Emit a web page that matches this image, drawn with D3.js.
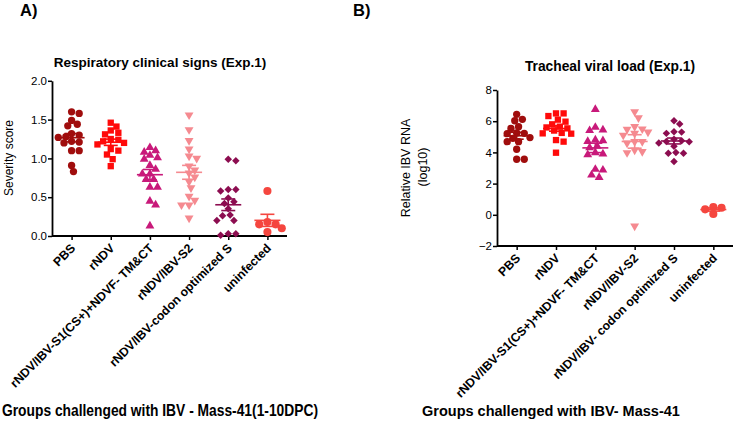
<!DOCTYPE html>
<html><head><meta charset="utf-8">
<script src="https://cdn.jsdelivr.net/npm/d3@7"></script>
<style>
body{margin:0;background:#fff}
svg{display:block;background:#fff}
text{font-family:"Liberation Sans",Arial,sans-serif;fill:#000}
</style>
</head><body>
<svg id="c" width="750" height="422"></svg>
<script>
// ---------- data ----------
const groupsA = ["PBS","rNDV","rNDV/IBV-S1(CS+)+NDVF- TM&CT","rNDV/IBV-S2","rNDV/IBV-codon optimized S","uninfected"];
const groupsB = ["PBS","rNDV","rNDV/IBV-S1(CS+)+NDVF- TM&CT","rNDV/IBV-S2","rNDV/IBV- codon optimized S","uninfected"];
const yTicksA = [0,0.5,1.0,1.5,2.0];
const yTicksB = [-2,0,2,4,6,8];

// Panel A: respiratory clinical signs (severity score)
const sevPBS   = [1.60,1.58,1.49,1.44,1.42,1.32,1.30,1.28,1.27,1.22,1.21,1.20,1.10,1.10,0.91,0.83];
const sevRNDV  = [1.46,1.41,1.36,1.33,1.31,1.25,1.24,1.22,1.20,1.18,1.12,1.10,1.05,0.99,0.90];
const sevS1    = [1.14,1.10,1.08,1.04,1.01,0.99,0.91,0.86,0.80,0.80,0.73,0.73,0.63,0.63,0.45,0.40,0.13];
const sevS2    = [1.56,1.37,1.23,1.12,1.03,1.00,0.90,0.85,0.81,0.76,0.70,0.62,0.51,0.46,0.40,0.40,0.23];
const sevCodon = [0.99,0.97,0.60,0.60,0.58,0.49,0.44,0.42,0.35,0.27,0.26,0.20,0.20,0.03,0.01,0.03];
const sevUninf = [0.58,0.18,0.15,0.15,0.10,0.05];

// Panel B: tracheal viral load (relative IBV RNA, log10)
const rnaPBS   = [6.44,6.12,6.03,5.65,5.54,5.25,5.22,5.20,4.95,4.90,4.69,4.69,4.20,3.56,3.56];
const rnaRNDV  = [6.50,6.50,6.33,6.10,5.97,5.80,5.65,5.60,5.54,5.40,5.25,5.22,5.20,4.79,4.69,3.98];
const rnaS1    = [6.76,5.61,5.44,5.40,4.80,4.75,4.70,4.40,4.30,3.98,3.90,3.85,2.92,2.87,2.55,2.40];
const rnaS2    = [6.61,6.22,5.65,5.50,5.48,5.30,5.22,5.10,4.69,4.69,4.60,4.15,4.05,3.98,-0.72];
const rnaCodon = [6.03,5.82,5.33,5.22,5.30,4.85,4.75,4.70,4.69,4.60,4.40,4.00,3.94,3.94,3.41];
const rnaUninf = [0.45,0.05,0.35,0.50];

const colors = ["#a00d0d","#ff0a0a","#c8197a","#f58a90","#8c0d50","#f5463f"];
const shapeNames = ["circle","square","triangle","triangleDown","diamond","circleBig"];

// ---------- drawing ----------
const svg = d3.select("#c");
const shapeDef = {
  circle:      {type:d3.symbolCircle,   size:42, rot:0},
  circleBig:   {type:d3.symbolCircle,   size:52, rot:0},
  square:      {type:d3.symbolSquare,   size:40, rot:0},
  triangle:    {type:d3.symbolTriangle, size:34, rot:0},
  triangleDown:{type:d3.symbolTriangle, size:34, rot:180},
  diamond:     {type:d3.symbolSquare,   size:28, rot:45}
};

function swarm(vals, y, cx, rad){
  const placed = [];
  const order = vals.map((v,i)=>({v,i})).sort((a,b)=>b.v-a.v);
  const out = new Array(vals.length);
  order.forEach(o=>{
    const py = y(o.v);
    let best = 0;
    for(let k=0;k<40;k++){
      const cands = k===0?[0]:[k*rad*0.5,-k*rad*0.5];
      let ok=null;
      for(const c of cands){
        if(placed.every(p=>Math.hypot(p.x-c,p.y-py)>=rad*1.7)){ok=c;break;}
      }
      if(ok!==null){best=ok;break;}
    }
    placed.push({x:best,y:py});
    out[o.i]={x:cx+best,y:py,v:o.v};
  });
  return out;
}

function panel(cfg){
  const g = svg.append("g");
  const x = d3.scalePoint().domain(cfg.groups).range([cfg.x0,cfg.x1]).padding(0.5);
  const y = d3.scaleLinear().domain(cfg.ydom).range([cfg.yb,cfg.yt]);

  // y axis
  const ya = g.append("g").attr("transform",`translate(${cfg.x0},0)`)
    .call(d3.axisLeft(y).tickValues(cfg.yticks).tickFormat(cfg.fmt).tickSize(4).tickSizeOuter(0));
  ya.select(".domain").attr("stroke-width",1.8);
  ya.selectAll(".tick line").attr("stroke-width",1.5);
  ya.selectAll(".tick text").attr("font-size",11.5).attr("x",-5);

  // x axis
  const xa = g.append("g").attr("transform",`translate(0,${cfg.yb})`)
    .call(d3.axisBottom(x).tickSize(4).tickSizeOuter(0));
  xa.select(".domain").attr("stroke-width",1.8).attr("d",`M${cfg.x0},0H${cfg.x1}`);
  xa.selectAll(".tick line").attr("stroke-width",1.5);
  xa.selectAll(".tick text")
    .attr("font-size",12.3).attr("font-weight","bold")
    .attr("text-anchor","end")
    .attr("y",0).attr("dy",0)
    .attr("transform","translate(4,13) rotate(-45)");

  cfg.series.forEach((vals,gi)=>{
    const col = colors[gi];
    const sd = shapeDef[shapeNames[gi]];
    const rad = shapeNames[gi]==="circleBig"?4.1:3.8;
    const cx = x(cfg.groups[gi]);
    const pts = swarm(vals,y,cx,rad);
    const sym = d3.symbol().type(sd.type).size(sd.size);
    g.append("g").selectAll("path").data(pts).join("path")
      .attr("d",sym)
      .attr("transform",d=>`translate(${d.x},${d.y}) rotate(${sd.rot})`)
      .attr("fill",col);
    const m = d3.mean(vals);
    const sem = d3.deviation(vals)/Math.sqrt(vals.length);
    const eb = g.append("g").attr("stroke",col).attr("stroke-width",1.6).attr("fill","none");
    eb.append("line").attr("x1",cx-13).attr("x2",cx+13).attr("y1",y(m)).attr("y2",y(m));
    eb.append("line").attr("x1",cx).attr("x2",cx).attr("y1",y(m-sem)).attr("y2",y(m+sem));
    eb.append("line").attr("x1",cx-7).attr("x2",cx+7).attr("y1",y(m+sem)).attr("y2",y(m+sem));
    eb.append("line").attr("x1",cx-7).attr("x2",cx+7).attr("y1",y(m-sem)).attr("y2",y(m-sem));
  });
  return {x,y};
}

panel({groups:groupsA,x0:52,x1:287,yb:236,yt:80.8,ydom:[0,2],yticks:yTicksA,fmt:d3.format(".1f"),
  series:[sevPBS,sevRNDV,sevS1,sevS2,sevCodon,sevUninf]});
panel({groups:groupsB,x0:497,x1:733,yb:246,yt:90,ydom:[-2,8],yticks:yTicksB,fmt:d3.format("d"),
  series:[rnaPBS,rnaRNDV,rnaS1,rnaS2,rnaCodon,rnaUninf]});

// titles & labels
svg.append("text").attr("x",20).attr("y",16).attr("font-size",16.5).attr("font-weight","bold").text("A)");
svg.append("text").attr("x",353).attr("y",16).attr("font-size",16.5).attr("font-weight","bold").text("B)");
svg.append("text").attr("x",160).attr("y",67).attr("text-anchor","middle").attr("font-size",13.5).attr("font-weight","bold")
  .text("Respiratory clinical signs (Exp.1)");
svg.append("text").attr("x",610).attr("y",71).attr("text-anchor","middle").attr("font-size",13.8).attr("font-weight","bold")
  .text("Tracheal viral load (Exp.1)");
svg.append("text").attr("transform","translate(13,158) rotate(-90)").attr("text-anchor","middle").attr("font-size",12)
  .text("Severity score");
svg.append("text").attr("transform","translate(410,168) rotate(-90)").attr("text-anchor","middle").attr("font-size",12.5)
  .text("Relative IBV RNA");
svg.append("text").attr("transform","translate(427,167) rotate(-90)").attr("text-anchor","middle").attr("font-size",12.5)
  .text("(log10)");
svg.append("text").attr("x",2).attr("y",416).attr("font-size",16.5).attr("font-weight","bold")
  .attr("font-family","'Liberation Sans Narrow','Liberation Sans',Arial,sans-serif")
  .attr("textLength",316).attr("lengthAdjust","spacingAndGlyphs")
  .text("Groups challenged with IBV - Mass-41(1-10DPC)");
svg.append("text").attr("x",422).attr("y",416).attr("font-size",14.5).attr("font-weight","bold")
  .text("Groups challenged with IBV- Mass-41");
</script>
</body></html>
